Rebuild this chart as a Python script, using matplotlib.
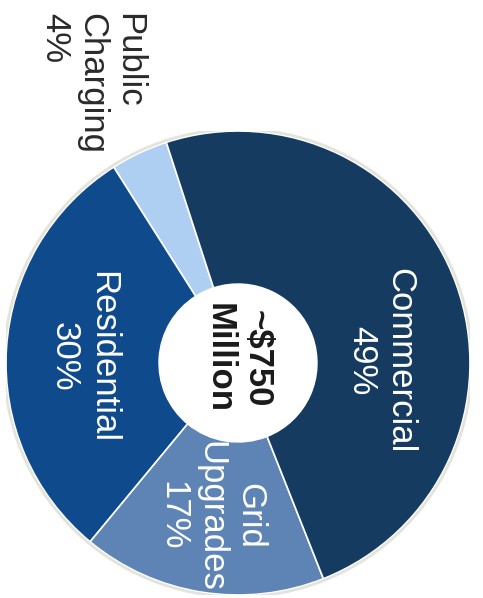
import matplotlib
matplotlib.use("Agg")
import matplotlib.pyplot as plt

plt.rcParams['font.family'] = ['Liberation Sans', 'DejaVu Sans']

# Data (counter-clockwise order starting at the Commercial/Public boundary)
categories = ["Public\nCharging", "Residential", "Grid\nUpgrades", "Commercial"]
shares = [4, 30, 17, 49]
pct_labels = ["4%", "30%", "17%", "49%"]
colors = ["#aecff1", "#0e4a8c", "#5d84b5", "#153b61"]
center_label = "~$750\nMillion"

W, H = 483, 598
fig = plt.figure(figsize=(W / 100, H / 100), dpi=100)
cx, cy, R = 238, 363, 232
ax = fig.add_axes([(cx - R) / W, (H - cy - R) / H, 2 * R / W, 2 * R / H])

wedges, _ = ax.pie(shares, colors=colors, startangle=108, counterclock=True,
                   radius=1.0,
                   wedgeprops=dict(width=0.66, edgecolor="white", linewidth=1.2))
# faint outer rim
ax.add_patch(plt.Circle((0, 0), 1.008, fill=False, edgecolor="#e4e4dc", linewidth=2.0))
ax.set_xlim(-1, 1)
ax.set_ylim(-1, 1)
ax.set_aspect("equal")
ax.axis("off")

fs = 25
# Labels inside the ring (rotated, reading top-to-bottom)
ax.text(0.615, 0.01, f"{categories[3]}\n{pct_labels[3]}", rotation=-90, ha="center", va="center",
        fontsize=fs, color="white", linespacing=1.2)
ax.text(-0.665, 0.025, f"{categories[1]}\n{pct_labels[1]}", rotation=-90, ha="center", va="center",
        fontsize=fs, color="white", linespacing=1.2)
ax.text(-0.115, -0.66, f"{categories[2]}\n{pct_labels[2]}", rotation=-90, ha="center", va="center",
        fontsize=fs, color="white", linespacing=1.2)
# Outside label
ax.text(-0.63, 1.51, f"{categories[0]}\n{pct_labels[0]}", rotation=-90, ha="center", va="top",
        multialignment="left", fontsize=fs, color="#2a2a2a", linespacing=1.15)
# Center
ax.text(0.0, 0.02, center_label, rotation=-90, ha="center", va="center",
        fontsize=fs, fontweight="bold", color="#1a1a1a", linespacing=1.2)

fig.savefig("out.png", dpi=100)
